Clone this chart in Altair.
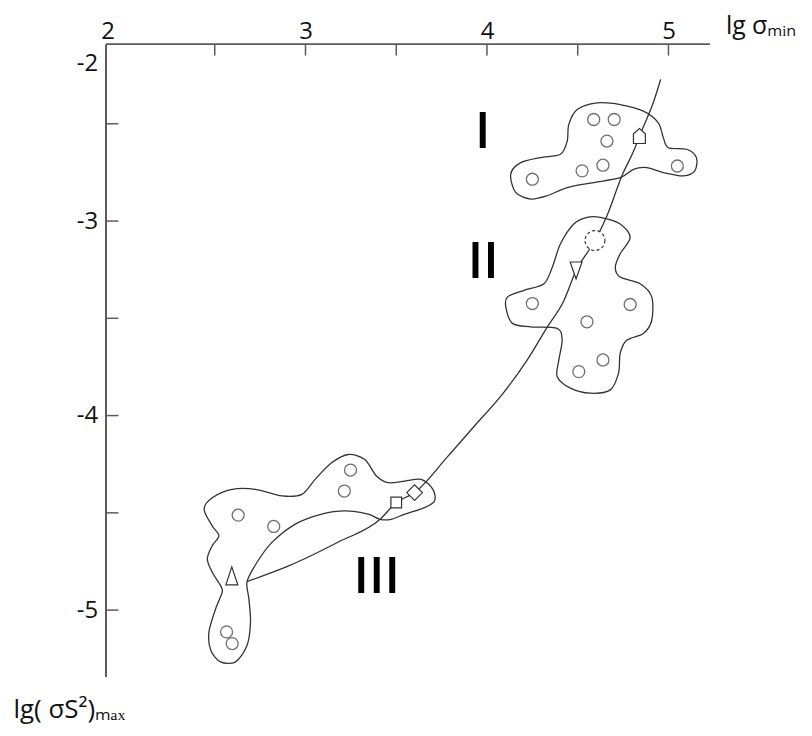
import altair as alt
import pandas as pd

# ---------------- data (in axis units) ----------------
# open circles (samples)
circle_x = [4.588, 4.701, 4.661, 4.524, 4.639, 4.250, 5.049,
            4.250, 4.789, 4.551, 4.639, 4.506,
            2.629, 2.825, 3.214, 3.248, 2.565, 2.596]
circle_y = [-2.478, -2.478, -2.589, -2.742, -2.713, -2.785, -2.717,
            -3.424, -3.429, -3.518, -3.714, -3.774,
            -4.512, -4.570, -4.388, -4.280, -5.112, -5.172]

# special markers on the curve
marker_kind = ["house", "tri_down", "tri_up", "square", "diamond"]
marker_x = [4.840, 4.491, 2.594, 3.500, 3.601]
marker_y = [-2.563, -3.254, -4.824, -4.447, -4.396]
dashed_x = [4.595]
dashed_y = [-3.100]

# trend curve
curve_x = [2.678, 2.907, 3.181, 3.411, 3.500, 3.601, 3.784, 3.937, 4.074, 4.222,
           4.332, 4.425, 4.491, 4.568, 4.595, 4.661, 4.743, 4.815, 4.840, 4.875,
           4.919, 4.957]
curve_y = [-4.853, -4.773, -4.650, -4.533, -4.447, -4.396, -4.210, -4.047, -3.903, -3.714,
           -3.545, -3.407, -3.254, -3.141, -3.100, -2.973, -2.768, -2.625, -2.563, -2.487,
           -2.384, -2.272]

# cluster outlines
outline_I_x = [4.131, 4.186, 4.295, 4.405, 4.442, 4.451, 4.497, 4.606, 4.734, 4.862,
               4.944, 4.972, 4.999, 5.100, 5.154, 5.145, 5.082, 4.972, 4.880, 4.807,
               4.734, 4.588, 4.442, 4.332, 4.241, 4.158]
outline_I_y = [-2.759, -2.700, -2.674, -2.657, -2.589, -2.503, -2.427, -2.393, -2.401, -2.435,
               -2.495, -2.572, -2.623, -2.631, -2.674, -2.742, -2.768, -2.751, -2.725, -2.734,
               -2.777, -2.802, -2.828, -2.870, -2.887, -2.853]

outline_II_x = [4.624, 4.734, 4.789, 4.734, 4.707, 4.734, 4.844, 4.908, 4.908, 4.862,
                4.771, 4.734, 4.725, 4.679, 4.569, 4.460, 4.387, 4.396, 4.414, 4.387,
                4.241, 4.140, 4.104, 4.113, 4.204, 4.314, 4.360, 4.405, 4.478, 4.551]
outline_II_y = [-2.981, -3.015, -3.084, -3.168, -3.237, -3.288, -3.322, -3.390, -3.510, -3.578,
                -3.612, -3.680, -3.782, -3.868, -3.885, -3.859, -3.800, -3.714, -3.612, -3.552,
                -3.544, -3.526, -3.442, -3.390, -3.356, -3.322, -3.237, -3.117, -3.015, -2.981]

outline_III_x = [2.441, 2.486, 2.596, 2.724, 2.870, 2.980, 3.053, 3.144, 3.236, 3.327,
                 3.391, 3.455, 3.547, 3.638, 3.702, 3.711, 3.656, 3.547, 3.473, 3.409,
                 3.345, 3.218, 3.089, 2.944, 2.815, 2.733, 2.678, 2.688, 2.697, 2.678,
                 2.615, 2.532, 2.478, 2.468, 2.505, 2.541, 2.532, 2.486, 2.459, 2.486,
                 2.523, 2.486]
outline_III_y = [-4.481, -4.422, -4.379, -4.379, -4.413, -4.405, -4.328, -4.243, -4.200, -4.226,
                 -4.311, -4.345, -4.337, -4.328, -4.379, -4.439, -4.473, -4.507, -4.533, -4.533,
                 -4.507, -4.490, -4.507, -4.558, -4.652, -4.754, -4.853, -4.942, -5.061, -5.181,
                 -5.266, -5.266, -5.206, -5.112, -4.993, -4.908, -4.874, -4.805, -4.737, -4.669,
                 -4.618, -4.567]

# group labels
group_label = ["I", "II", "III"]
group_x = [3.976, 3.980, 3.392]
group_y = [-2.623, -3.293, -4.911]

# axes
x_tick_values = [2.5, 3, 3.5, 4, 4.5, 5]
x_label_values = [1.91, 3, 4, 5]
y_tick_values = [-2.5, -3, -3.5, -4, -4.5, -5]
y_label_values = [-2.19, -3, -4, -5]
x_domain = [1.898, 5.226]
y_domain = [-5.341, -2.088]

# ---------------- tables ----------------
circles = pd.DataFrame({"x": circle_x, "y": circle_y})
markers = pd.DataFrame({"x": marker_x, "y": marker_y, "kind": marker_kind})
dashed = pd.DataFrame({"x": dashed_x, "y": dashed_y})
curve = pd.DataFrame({"x": curve_x, "y": curve_y})
rows = []
for name, xs_, ys_ in [("I", outline_I_x, outline_I_y),
                       ("II", outline_II_x, outline_II_y),
                       ("III", outline_III_x, outline_III_y)]:
    for i, (a, b) in enumerate(zip(xs_, ys_)):
        rows.append({"x": a, "y": b, "grp": name, "i": i})
outlines = pd.DataFrame(rows)
labels = pd.DataFrame({"x": group_x, "y": group_y, "t": group_label})
xticks = pd.DataFrame({"x": x_tick_values})
yticks = pd.DataFrame({"y": y_tick_values})

INK = "#333333"
AX = "#5c5c5c"
FONT = "Open Sans"

xscale = alt.Scale(domain=x_domain, nice=False, zero=False)
yscale = alt.Scale(domain=y_domain, nice=False, zero=False)

xaxis = alt.Axis(orient="top", values=x_label_values, labelExpr="'' + round(datum.value)",
                 ticks=False, grid=False, domain=True, domainColor=AX, domainWidth=2,
                 labelFont=FONT, labelFontSize=24, labelColor="#111", labelPadding=0,
                 title="lg σₘᵢₙ", titleFont=FONT, titleFontSize=25, titleFontWeight="normal",
                 titleColor="#111", titleAngle=0, titleAlign="left", titleBaseline="alphabetic",
                 titleX=623, titleY=-10)
yaxis = alt.Axis(orient="left", values=y_label_values,
                 labelExpr="'-' + abs(round(datum.value))",
                 ticks=False, grid=False, domain=True, domainColor=AX, domainWidth=2,
                 labelFont=FONT, labelFontSize=24, labelColor="#111", labelPadding=8,
                 title="lg( σS²)ₘₐₓ", titleFont=FONT, titleFontSize=26, titleFontWeight="normal",
                 titleColor="#111", titleAngle=0, titleAlign="left", titleBaseline="alphabetic",
                 titleX=-93, titleY=677)

X = alt.X("x:Q", scale=xscale, axis=xaxis)
Y = alt.Y("y:Q", scale=yscale, axis=yaxis)

outline_layer = alt.Chart(outlines).mark_line(
    interpolate="cardinal-closed", tension=0.1, color=INK, strokeWidth=1.3
).encode(x=X, y=Y, detail="grp:N", order="i:Q")

curve_layer = alt.Chart(curve).mark_line(
    interpolate="monotone", color=INK, strokeWidth=1.3
).encode(x=X, y=Y)

circle_layer = alt.Chart(circles).mark_point(
    shape="circle", size=145, filled=False, color=INK, strokeWidth=1.3
).encode(x=X, y=Y)

# marker styles (shape, size)
marker_style = {
    "house": ("M-0.8,1L0.8,1L0.8,-0.3L0,-1L-0.8,-0.3Z", 225),
    "tri_down": ("M-0.7,-1L0.7,-1L0,1Z", 289),
    "tri_up": ("M0,-1L0.67,1L-0.67,1Z", 324),
    "square": ("square", 115),
    "diamond": ("diamond", 250),
}
marker_layers = []
for kind in marker_kind:
    shp, sz = marker_style[kind]
    marker_layers.append(
        alt.Chart(markers[markers["kind"] == kind]).mark_point(
            shape=shp, size=sz, filled=True, fill="white", stroke=INK,
            strokeWidth=1.2, opacity=1
        ).encode(x=X, y=Y)
    )

dashed_layer = alt.Chart(dashed).mark_point(
    shape="circle", size=400, filled=True, fill="white", stroke=INK, strokeWidth=1.2,
    strokeDash=[3, 2.5], opacity=1
).encode(x=X, y=Y)

label_layer = alt.Chart(labels).mark_text(
    font="Open Sans", fontWeight=600, fontSize=51, color="#000",
    align="center", baseline="alphabetic"
).encode(x=X, y=Y, text="t:N")

xtick_layer = alt.Chart(xticks).mark_rule(color=AX, strokeWidth=1.5).encode(
    x=X, y=alt.value(0), y2=alt.value(12))
ytick_layer = alt.Chart(yticks).mark_rule(color=AX, strokeWidth=1.5).encode(
    y=Y, x=alt.value(0), x2=alt.value(13))

chart = alt.layer(
    outline_layer, curve_layer, circle_layer, dashed_layer, *marker_layers,
    label_layer, xtick_layer, ytick_layer
).properties(
    width=607, height=636,
    padding={"left": 98, "top": 34, "right": 95, "bottom": 50},
    autosize=alt.AutoSizeParams(type="none"),
    background="white"
).configure_view(stroke=None)

chart.save("out.html", embed_options={"renderer": "svg", "actions": False})
